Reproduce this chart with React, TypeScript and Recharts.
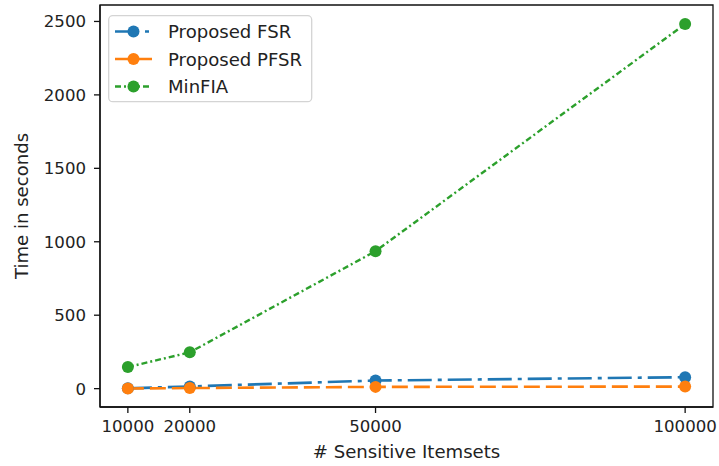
import {
  Label,
  Legend,
  Line,
  LineChart,
  ReferenceArea,
  XAxis,
  YAxis,
} from "recharts"

// number of sensitive itemsets on the x axis
const itemsets = [10000, 20000, 50000, 100000]
// runtime in seconds per method
const fsrTimes = [2, 15, 55, 78]
const pfsrTimes = [1, 4, 12, 14]
const minfiaTimes = [147, 247, 936, 2482]

const xTicks = [10000, 20000, 50000, 100000]
const yTicks = [0, 500, 1000, 1500, 2000, 2500]

const FONT = "'DejaVu Sans', sans-serif"
const TICK_SIZE = 16.6
const LABEL_SIZE = 18.1
const INK = "#222"

type Series = {
  key: "fsr" | "pfsr" | "minfia"
  name: string
  color: string
  dash: string
  width: number
}

const series: Series[] = [
  { key: "fsr", name: "Proposed FSR", color: "#1f77b4", dash: "24 6 4 6", width: 2.6 },
  { key: "pfsr", name: "Proposed PFSR", color: "#ff7f0e", dash: "16 6", width: 2.6 },
  { key: "minfia", name: "MinFIA", color: "#2ca02c", dash: "6 3 2 3", width: 2.4 },
]

const rows = itemsets.map((n, i) => ({
  n,
  fsr: fsrTimes[i],
  pfsr: pfsrTimes[i],
  minfia: minfiaTimes[i],
}))

const X_DOMAIN: [number, number] = [5500, 104500]
const Y_DOMAIN: [number, number] = [-125, 2612]

function LegendBox() {
  return (
    <svg width={205} height={88} style={{ display: "block" }}>
      <rect
        x={0.7}
        y={0.7}
        width={203}
        height={86}
        rx={4}
        fill="rgba(255,255,255,0.8)"
        stroke="#d4d4d4"
        strokeWidth={1.3}
      />
      {series.map((s, i) => {
        const cy = 16.5 + i * 27.5
        return (
          <g key={s.key}>
            <line
              x1={7}
              x2={44}
              y1={cy}
              y2={cy}
              stroke={s.color}
              strokeWidth={s.width}
              strokeDasharray={s.dash}
            />
            <circle cx={25.5} cy={cy} r={6} fill={s.color} />
            <text
              x={60}
              y={cy}
              dominantBaseline="central"
              fontFamily={FONT}
              fontSize={LABEL_SIZE}
              fill={INK}
            >
              {s.name}
            </text>
          </g>
        )
      })}
    </svg>
  )
}

export default function App() {
  const tickStyle = { fontFamily: FONT, fontSize: TICK_SIZE, fill: INK }
  const spine = { stroke: "#111", strokeWidth: 1.3 }

  return (
    <div style={{ position: "absolute", left: 0, top: 0, width: 719, height: 466, background: "#fff" }}>
      <LineChart
        width={719}
        height={466}
        data={rows}
        margin={{ top: 5, right: 6, bottom: 0, left: 0 }}
      >
        <XAxis
          dataKey="n"
          type="number"
          domain={X_DOMAIN}
          ticks={xTicks}
          allowDataOverflow
          height={59}
          tick={tickStyle}
          tickSize={6}
          tickMargin={7}
          tickLine={spine}
          axisLine={spine}
        >
          <Label
            content={({ viewBox }: any) => (
              <text
                x={viewBox.x + viewBox.width / 2}
                y={viewBox.y + 51}
                textAnchor="middle"
                fontFamily={FONT}
                fontSize={LABEL_SIZE}
                fill={INK}
              >
                # Sensitive Itemsets
              </text>
            )}
          />
        </XAxis>
        <YAxis
          type="number"
          domain={Y_DOMAIN}
          ticks={yTicks}
          allowDataOverflow
          width={100}
          tick={tickStyle}
          tickSize={6}
          tickMargin={8}
          tickLine={spine}
          axisLine={spine}
        >
          <Label
            content={({ viewBox }: any) => {
              const cx = 21
              const cy = viewBox.y + viewBox.height / 2
              return (
                <text
                  x={cx}
                  y={cy}
                  transform={`rotate(-90 ${cx} ${cy})`}
                  textAnchor="middle"
                  dominantBaseline="central"
                  fontFamily={FONT}
                  fontSize={LABEL_SIZE}
                  fill={INK}
                >
                  Time in seconds
                </text>
              )
            }}
          />
        </YAxis>
        {/* full frame around the plot area */}
        <ReferenceArea
          x1={X_DOMAIN[0]}
          x2={X_DOMAIN[1]}
          y1={Y_DOMAIN[0]}
          y2={Y_DOMAIN[1]}
          fill="none"
          fillOpacity={0}
          stroke="#111"
          strokeWidth={1.3}
          strokeOpacity={1}
          ifOverflow="visible"
        />
        {series.map((s) => (
          <Line
            key={s.key}
            dataKey={s.key}
            name={s.name}
            type="linear"
            stroke={s.color}
            strokeWidth={s.width}
            strokeDasharray={s.dash}
            dot={{ r: 6, fill: s.color, stroke: s.color, strokeWidth: 0 }}
            activeDot={false}
            isAnimationActive={false}
          />
        ))}
        <Legend
          layout="vertical"
          align="center"
          verticalAlign="middle"
          content={() => <LegendBox />}
          wrapperStyle={{ position: "absolute", left: 108, top: 15, width: "auto", height: "auto" }}
        />
      </LineChart>
    </div>
  )
}
